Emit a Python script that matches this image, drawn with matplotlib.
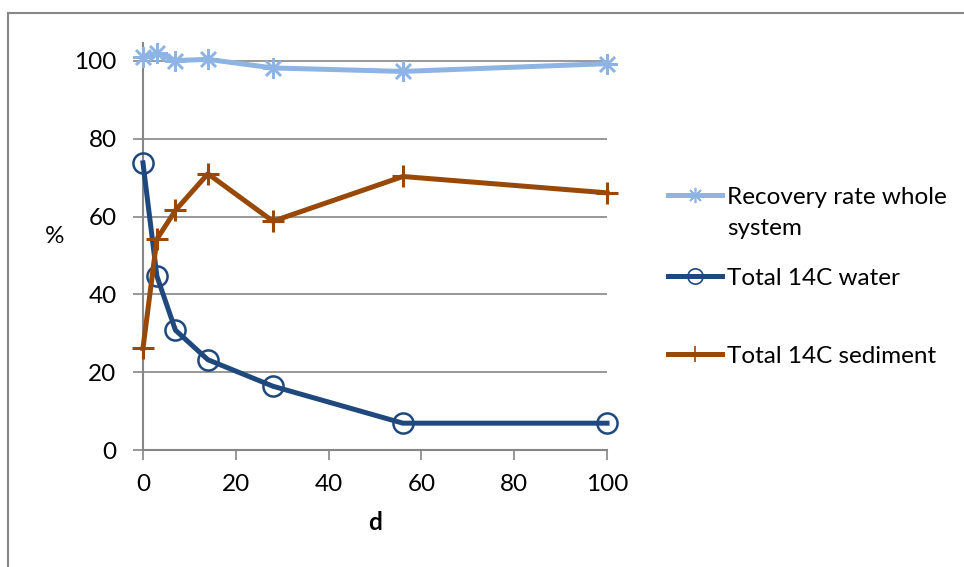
import matplotlib.pyplot as plt
from matplotlib.lines import Line2D

# ------ data (days after application, % of applied 14C)
days = [0, 3, 7, 14, 28, 56, 100]
recovery = [101.1, 102.0, 100.1, 100.4, 98.2, 97.3, 99.3]
water = [73.8, 44.7, 30.8, 23.2, 16.4, 6.9, 6.9]
sediment = [26.1, 54.2, 61.6, 71.0, 58.8, 70.3, 66.1]

labels = ['Recovery rate whole', 'Total 14C water', 'Total 14C sediment']
x_ticks = [0, 20, 40, 60, 80, 100]
y_ticks = [0, 20, 40, 60, 80, 100]

c_rec = '#8DB4E2'
c_wat = '#1F497D'
c_sed = '#984807'
c_grid = '#868686'
fs = 17.5

plt.rcParams['font.family'] = ['Lato', 'DejaVu Sans']

fig = plt.figure(figsize=(9.64, 5.67), dpi=100)
ax = fig.add_axes([0.1483, 0.2063, 0.4814, 0.7178])

# - gridlines
for y in y_ticks[1:]:
    ax.axhline(y, color=c_grid, lw=1.2, zorder=1)

l_rec, = ax.plot(days, recovery, color=c_rec, lw=3.6, marker=(8, 2, 0), ms=15,
                 mew=1.8, mec=c_rec, zorder=3, clip_on=False)
l_wat, = ax.plot(days, water, color=c_wat, lw=3.6, marker='o', ms=14.5,
                 mfc='none', mew=1.8, mec=c_wat, zorder=3, clip_on=False)
l_sed, = ax.plot(days, sediment, color=c_sed, lw=3.6, marker='+', ms=16,
                 mew=2.2, mec=c_sed, zorder=3, clip_on=False)

ax.set_xlim(0, 100)
ax.set_ylim(0, 104.6)
ax.set_xticks(x_ticks)
ax.set_yticks(y_ticks)
ax.tick_params(direction='out', length=7, width=1.2, color=c_grid,
               labelsize=fs)
ax.tick_params(axis='y', pad=12)
ax.tick_params(axis='x', pad=10)

for side in ['top', 'right']:
    ax.spines[side].set_visible(False)
for side in ['left', 'bottom']:
    ax.spines[side].set_color(c_grid)
    ax.spines[side].set_linewidth(1.5)
ax.patch.set_visible(False)

ax.set_xlabel('d', fontsize=fs, fontweight='bold', labelpad=12)
ax.set_ylabel('%', fontsize=fs, rotation=0, labelpad=0)
ax.yaxis.set_label_coords(-0.19, 0.5)

# - legend, one entry at a time
def legend_entry(handle, text, y):
    h = Line2D([], [], color=handle.get_color(), lw=3.6, marker=handle.get_marker(),
               ms=11, mew=1.2, mfc=handle.get_markerfacecolor(), mec=handle.get_markeredgecolor())
    fig.legend([h], [text], loc='center left', bbox_to_anchor=(0.693, y),
               frameon=False, fontsize=fs, handlelength=2.22, handletextpad=0.2,
               borderpad=0, borderaxespad=0)

legend_entry(l_rec, labels[0], 1 - 197 / 567)
fig.text(727 / 964, 1 - 229 / 567, 'system', fontsize=fs, va='center', ha='left')
legend_entry(l_wat, labels[1], 1 - 278 / 567)
legend_entry(l_sed, labels[2], 1 - 356 / 567)

# - chart area border (left and top)
fig.add_artist(Line2D([0.0083, 0.0083], [0, 0.977], color='#888888', lw=1.5))
fig.add_artist(Line2D([0.0083, 1.0], [0.977, 0.977], color='#888888', lw=1.5))

fig.savefig('out.png', dpi=100)
